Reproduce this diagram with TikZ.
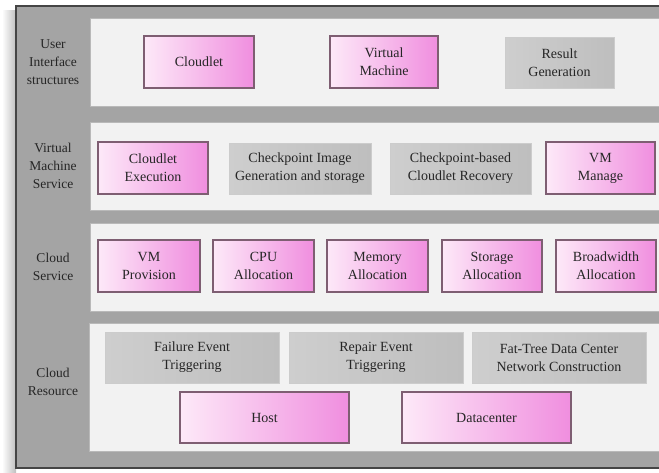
\documentclass[tikz,border=0pt]{standalone}
\usepackage{fontspec}
\setmainfont{Liberation Serif}

\definecolor{framegray}{HTML}{A4A4A4}
\definecolor{frameedge}{HTML}{454545}
\definecolor{panelwhite}{HTML}{F2F2F2}
\definecolor{pinklight}{HTML}{FDE9F8}
\definecolor{pinkdark}{HTML}{F08EDF}
\definecolor{pinkedge}{HTML}{7E5E72}
\definecolor{graylight}{HTML}{CECECE}
\definecolor{graydark}{HTML}{BEBEBE}
\definecolor{labelgray}{HTML}{262626}

\tikzset{
  layer/.style={fill=panelwhite, draw=gray!55, line width=0.5pt},
  sidelabel/.style={align=center, text=labelgray, font=\fontsize{13.5}{18}\selectfont},
  pinkbox/.style={draw=pinkedge, line width=1.3pt, left color=pinklight, right color=pinkdark,
    align=center, inner sep=0pt, text=labelgray, font=\fontsize{14}{18}\selectfont},
  graybox/.style={draw=gray!40, line width=0.6pt, left color=graylight, right color=graydark,
    align=center, inner sep=0pt, text=labelgray, font=\fontsize{14}{18}\selectfont}
}

\begin{document}
\begin{tikzpicture}[x=1pt,y=-1pt]

\clip (0,0) rectangle (659,472);

% Shadow and outer frame
\shade[left color=white, right color=gray!50] (2,10) rectangle (16,472);
\draw[fill=framegray, draw=frameedge, line width=1.6pt] (16,6) rectangle (670,468);

% Layers
\draw[layer] (90,18) rectangle (670,106);
\draw[layer] (90,122) rectangle (670,210);
\draw[layer] (90,223) rectangle (670,311);
\draw[layer] (89,323) rectangle (670,451);

% Layer names
\node[sidelabel] (uis) at (53,62) {User\\Interface\\structures};
\node[sidelabel] (vms) at (53,166) {Virtual\\Machine\\Service};
\node[sidelabel] (cs) at (53,267) {Cloud\\Service};
\node[sidelabel] (cr) at (53,382) {Cloud\\Resource};

% User interface structures
\node[pinkbox, minimum width=110, minimum height=52] (cloudlet) at (199,62) {Cloudlet};
\node[pinkbox, minimum width=108, minimum height=52] (vm) at (384,62) {Virtual\\Machine};
\node[graybox, minimum width=109, minimum height=51] (result) at (559.5,62.5) {Result\\Generation};

% Virtual machine service
\node[pinkbox, minimum width=110, minimum height=52] (exec) at (153,168) {Cloudlet\\Execution};
\node[graybox, minimum width=142, minimum height=51] (ckimg) at (300,168.5) {Checkpoint Image\\Generation and storage};
\node[graybox, minimum width=141, minimum height=51] (ckrec) at (460.5,168.5) {Checkpoint-based\\Cloudlet Recovery};
\node[pinkbox, minimum width=109, minimum height=52] (vmm) at (600.5,168) {VM\\Manage};

% Cloud service
\node[pinkbox, minimum width=102, minimum height=52] (prov) at (149,266) {VM\\Provision};
\node[pinkbox, minimum width=101, minimum height=52] (cpu) at (263.5,266) {CPU\\Allocation};
\node[pinkbox, minimum width=101, minimum height=52] (mem) at (377.5,266) {Memory\\Allocation};
\node[pinkbox, minimum width=100, minimum height=52] (stor) at (492,266) {Storage\\Allocation};
\node[pinkbox, minimum width=100, minimum height=52] (bw) at (606,266) {Broadwidth\\Allocation};

% Cloud resource
\node[graybox, minimum width=174, minimum height=51] (fail) at (192,357.5) {Failure Event\\Triggering};
\node[graybox, minimum width=174, minimum height=51] (repair) at (376,357.5) {Repair Event\\Triggering};
\node[graybox, minimum width=174, minimum height=51] (fattree) at (559,357.5) {Fat-Tree Data Center\\Network Construction};
\node[pinkbox, minimum width=169, minimum height=51] (host) at (264.5,417.5) {Host};
\node[pinkbox, minimum width=169, minimum height=51] (dc) at (486.5,417.5) {Datacenter};

\end{tikzpicture}
\end{document}
